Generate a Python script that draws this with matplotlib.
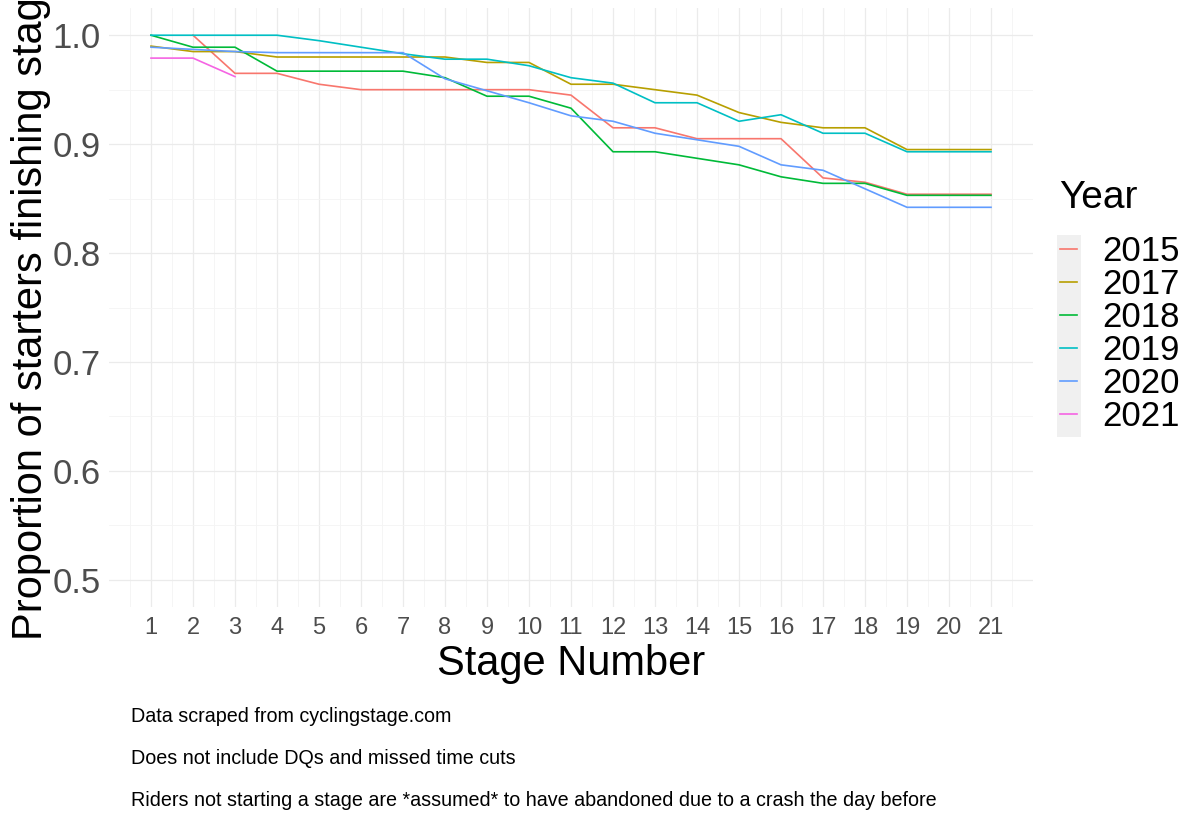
import matplotlib
matplotlib.use('Agg')
import matplotlib.pyplot as plt
import numpy as np
from matplotlib.patches import Rectangle

plt.rcParams['font.family'] = ['Liberation Sans', 'DejaVu Sans']

# Stage numbers and proportion of starters finishing each stage, per year
stages = list(range(1, 22))
nan = np.nan
y2015 = [nan, 1.000, 0.965, 0.965, 0.955, 0.950, 0.950, 0.950, 0.950, 0.950, 0.945,
         0.915, 0.915, 0.905, 0.905, 0.905, 0.869, 0.865, 0.854, 0.854, 0.854]
y2017 = [0.990, 0.985, 0.985, 0.980, 0.980, 0.980, 0.980, 0.980, 0.975, 0.975, 0.955,
         0.955, 0.950, 0.945, 0.929, 0.920, 0.915, 0.915, 0.895, 0.895, 0.895]
y2018 = [1.000, 0.989, 0.989, 0.967, 0.967, 0.967, 0.967, 0.961, 0.944, 0.944, 0.933,
         0.893, 0.893, 0.887, 0.881, 0.870, 0.864, 0.864, 0.853, 0.853, 0.853]
y2019 = [1.000, 1.000, 1.000, 1.000, 0.995, 0.989, 0.983, 0.978, 0.978, 0.972, 0.961,
         0.956, 0.938, 0.938, 0.921, 0.927, 0.910, 0.910, 0.893, 0.893, 0.893]
y2020 = [0.989, 0.987, 0.985, 0.984, 0.984, 0.984, 0.984, 0.960, 0.949, 0.938, 0.926,
         0.921, 0.910, 0.904, 0.898, 0.881, 0.876, 0.859, 0.842, 0.842, 0.842]
y2021 = [0.979, 0.979, 0.962] + [nan] * 18

years = ['2015', '2017', '2018', '2019', '2020', '2021']
series = [y2015, y2017, y2018, y2019, y2020, y2021]
colors = ['#F8766D', '#B79F00', '#00BA38', '#00BFC4', '#619CFF', '#F564E3']

captions = ['Data scraped from cyclingstage.com',
            'Does not include DQs and missed time cuts',
            'Riders not starting a stage are *assumed* to have abandoned due to a crash the day before']

fig = plt.figure(figsize=(12, 8.4), dpi=100)
ax = fig.add_axes([109 / 1200, 1 - 607 / 840, (1033 - 109) / 1200, (607 - 8) / 840])

lines = []
for yr, vals, col in zip(years, series, colors):
    ln, = ax.plot(stages, vals, color=col, lw=1.2, label=yr)
    lines.append(ln)

ax.set_xlim(0, 22)
ax.set_ylim(0.475, 1.025)
ax.set_xticks(stages)
ax.set_xticks(np.arange(0.5, 22, 1), minor=True)
ax.set_yticks([0.5, 0.6, 0.7, 0.8, 0.9, 1.0])
ax.set_yticks(np.arange(0.55, 1.0, 0.1), minor=True)
ax.set_yticklabels(['0.5', '0.6', '0.7', '0.8', '0.9', '1.0'])
ax.grid(True, which='major', color='#EBEBEB', lw=0.9)
ax.grid(True, which='minor', color='#F4F4F4', lw=0.6)
ax.set_axisbelow(True)
for s in ax.spines.values():
    s.set_visible(False)
ax.tick_params(axis='both', which='both', length=0)
ax.tick_params(axis='x', labelsize=17, labelcolor='#4D4D4D', pad=7)
ax.tick_params(axis='y', labelsize=25, labelcolor='#4D4D4D', pad=6)

ax.set_xlabel('Stage Number', fontsize=30, labelpad=4)
ax.set_ylabel('Proportion of starters finishing stage', fontsize=30, labelpad=1)

# legend: title as separate text, keys on a grey background
fig.text(1059 / 1200, 1 - 180 / 840, 'Year', fontsize=28, ha='left', va='top')
leg = fig.legend(handles=lines, labels=years, loc='upper left',
                 bbox_to_anchor=(1060 / 1200, 1 - 235 / 840), frameon=False,
                 fontsize=25, handlelength=0.5, borderpad=0, borderaxespad=0,
                 handletextpad=0.72, labelspacing=0.0)
fig.patches.append(Rectangle((1057 / 1200, 1 - 437 / 840), 24 / 1200, 202 / 840,
                             transform=fig.transFigure, facecolor='#F0F0F0',
                             edgecolor='none', zorder=-1))

for i, txt in enumerate(captions):
    fig.text(131 / 1200, 1 - (716 + 42 * i) / 840, txt, fontsize=14.2,
             ha='left', va='center')

fig.savefig('out.png', dpi=100)
